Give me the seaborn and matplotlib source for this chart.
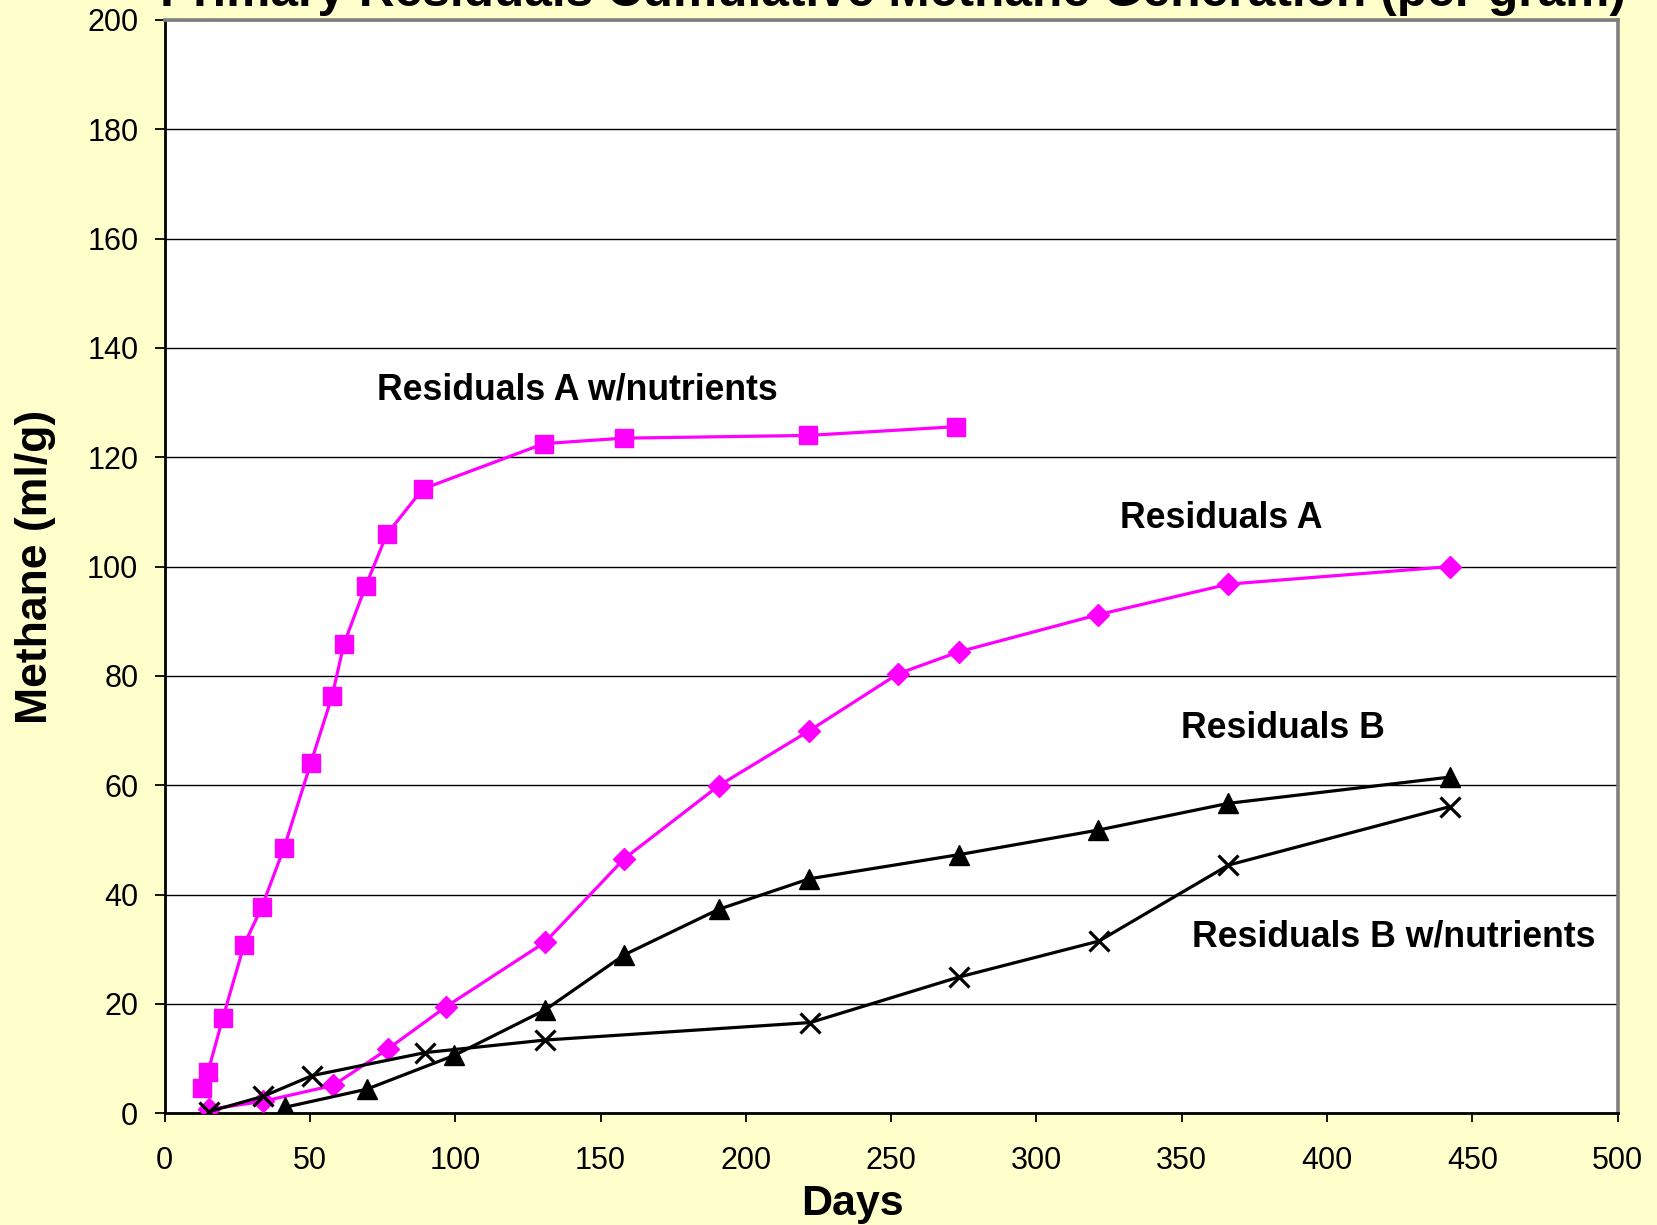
import matplotlib
matplotlib.use("Agg")
import matplotlib.pyplot as plt
import seaborn as sns
import pandas as pd

# ---- data ----
a_nut_days = [12.7, 14.9, 20.0, 27.3, 33.4, 41.1, 50.3, 57.6, 61.7, 69.2, 76.4, 88.8, 130.5, 157.9, 221.5, 272.4]
a_nut_ch4 = [4.7, 7.6, 17.4, 30.8, 37.7, 48.6, 64.1, 76.3, 85.9, 96.5, 105.9, 114.2, 122.5, 123.5, 124.0, 125.6]

a_days = [15.2, 33.9, 58.0, 76.9, 96.8, 130.9, 158.2, 190.6, 221.9, 252.4, 273.2, 321.2, 366.1, 442.3]
a_ch4 = [0.7, 2.2, 5.1, 11.8, 19.5, 31.3, 46.6, 59.9, 70.0, 80.4, 84.4, 91.2, 96.8, 100.0]

b_days = [41.4, 69.5, 99.7, 130.9, 158.2, 190.6, 221.9, 273.2, 321.2, 366.1, 442.3]
b_ch4 = [1.1, 4.4, 10.6, 18.9, 29.0, 37.3, 42.9, 47.3, 51.8, 56.7, 61.5]

b_nut_days = [15.2, 33.9, 50.8, 89.6, 131.0, 222.2, 273.2, 321.5, 366.1, 442.3]
b_nut_ch4 = [0.3, 3.1, 6.9, 11.1, 13.4, 16.6, 24.9, 31.5, 45.4, 56.1]

series_labels = ["Residuals A w/nutrients", "Residuals A", "Residuals B", "Residuals B w/nutrients"]
label_pos_x = [73.0, 328.8, 349.6, 353.5]
label_pos_y = [130.6, 107.0, 68.7, 30.6]

x_ticks = [0, 50, 100, 150, 200, 250, 300, 350, 400, 450, 500]
y_ticks = [0, 20, 40, 60, 80, 100, 120, 140, 160, 180, 200]

title = "Primary Residuals Cumulative Methane Generation (per gram)"
x_label = "Days"
y_label = "Methane (ml/g)"

# ---- style ----
sns.set_style("white")
plt.rcParams["font.family"] = ["Liberation Sans", "DejaVu Sans"]
plt.rcParams["text.color"] = "black"
plt.rcParams["axes.labelcolor"] = "black"
plt.rcParams["xtick.color"] = "black"
plt.rcParams["ytick.color"] = "black"

BG = "#FFFFCC"
MAG = "#FF00FF"

fig = plt.figure(figsize=(16.57, 12.25), dpi=100, facecolor=BG)
ax = fig.add_axes([0.0994, 0.0912, 0.8768, 0.8925])
ax.set_facecolor("white")

def draw(xs, ys, color, marker, ms, mew=1.0):
    df = pd.DataFrame({"x": xs, "y": ys})
    sns.lineplot(data=df, x="x", y="y", ax=ax, sort=False, color=color,
                 linewidth=2.3, marker=marker, markersize=ms,
                 markerfacecolor=color, markeredgecolor=color,
                 markeredgewidth=mew, zorder=3)

draw(a_nut_days, a_nut_ch4, MAG, "s", 12.5)
draw(a_days, a_ch4, MAG, "D", 11)
draw(b_days, b_ch4, "black", "^", 15)
draw(b_nut_days, b_nut_ch4, "black", "x", 14, mew=2.3)

for t, x, y in zip(series_labels, label_pos_x, label_pos_y):
    ax.text(x, y, t, fontsize=25.7, fontweight="bold", ha="left", va="baseline",
            color="black", zorder=4)

ax.set_xlim(0, 500)
ax.set_ylim(0, 200)
ax.set_xticks(x_ticks)
ax.set_yticks(y_ticks)
ax.tick_params(axis="x", direction="out", length=6.5, width=1.3, color="black",
               labelcolor="black", labelsize=22, pad=17, bottom=True)
ax.tick_params(axis="y", direction="out", length=7, width=1.3, color="black",
               labelcolor="black", labelsize=22, pad=12, left=True)

ax.yaxis.grid(True, color="black", linewidth=1.0)
ax.xaxis.grid(False)
ax.set_axisbelow(True)

for s in ["left", "bottom"]:
    ax.spines[s].set_color("black")
    ax.spines[s].set_linewidth(2.0)
for s in ["top", "right"]:
    ax.spines[s].set_color("#808080")
    ax.spines[s].set_linewidth(2.6)

ax.set_xlabel(x_label, fontsize=31, fontweight="bold", color="black")
ax.xaxis.set_label_coords(0.4737, -0.093)
ax.xaxis.label.set_va("baseline")
ax.set_ylabel(y_label, fontsize=32, fontweight="bold", color="black")
ax.yaxis.set_label_coords(-0.089, 0.5)
ax.yaxis.label.set_va("center")

fig.text(0.5392, 1 - 6 / 1225, title, fontsize=35.7, fontweight="bold",
         ha="center", va="baseline", color="black")

fig.savefig("out.png", dpi=100, facecolor=BG)
